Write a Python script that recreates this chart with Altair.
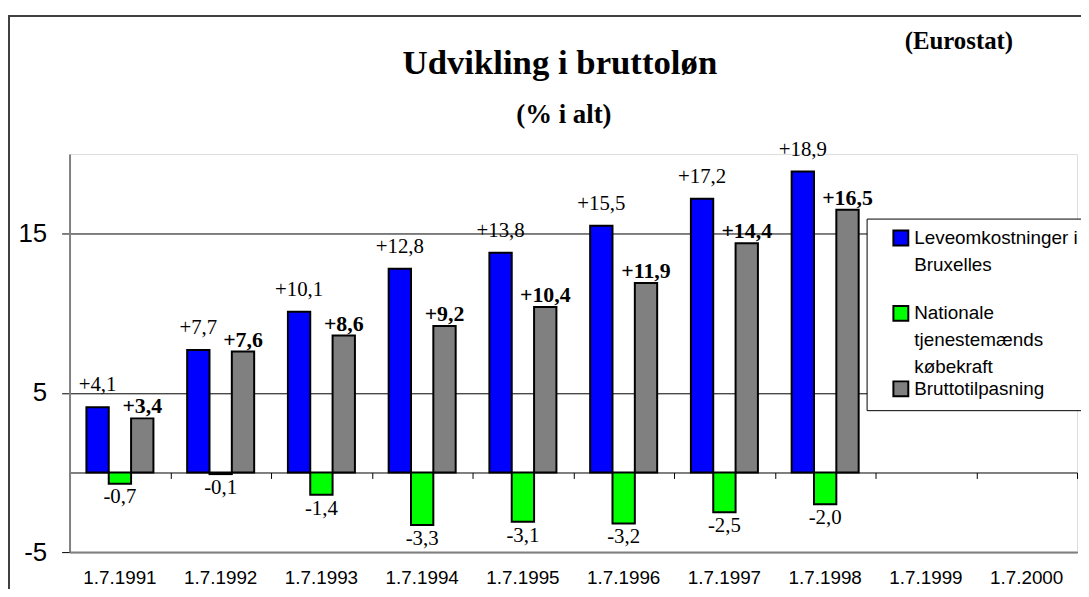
import altair as alt
import pandas as pd

# ---------------- data ----------------
CATEGORIES = ["1.7.1991", "1.7.1992", "1.7.1993", "1.7.1994", "1.7.1995",
              "1.7.1996", "1.7.1997", "1.7.1998", "1.7.1999", "1.7.2000"]
SERIES = ["Leveomkostninger i Bruxelles",
          "Nationale tjenestemænds købekraft",
          "Bruttotilpasning"]
LEVEOMKOSTNINGER = [4.1, 7.7, 10.1, 12.8, 13.8, 15.5, 17.2, 18.9]
KOEBEKRAFT = [-0.7, -0.1, -1.4, -3.3, -3.1, -3.2, -2.5, -2.0]
BRUTTOTILPASNING = [3.4, 7.6, 8.6, 9.2, 10.4, 11.9, 14.4, 16.5]
COLORS = ["#0000FF", "#00FF00", "#808080"]
Y_DOMAIN = [-5, 20]
Y_TICKS = [-5, 5, 15]
TITLE = "Udvikling i bruttoløn"
SUBTITLE = "(% i alt)"
SOURCE = "(Eurostat)"
LEGEND_LINES = {
    SERIES[0]: ["Leveomkostninger i", "Bruxelles", " "],
    SERIES[1]: ["Nationale", "tjenestemænds", "købekraft"],
}

rows = []
for s, vals in zip(SERIES, [LEVEOMKOSTNINGER, KOEBEKRAFT, BRUTTOTILPASNING]):
    for c, v in zip(CATEGORIES, vals):
        rows.append({"cat": c, "series": s, "value": v,
                     "label": f"{v:+.1f}".replace(".", ",")})
df = pd.DataFrame(rows)
one = pd.DataFrame({"k": [0]})

# ---------------- layout ----------------
W, H = 1015, 401
zero_offset = -H * (0 - Y_DOMAIN[0]) / (Y_DOMAIN[1] - Y_DOMAIN[0])

x_scale = alt.Scale(domain=CATEGORIES, paddingInner=0, paddingOuter=0)
xoff = alt.XOffset("series:N", sort=SERIES,
                   scale=alt.Scale(domain=SERIES, paddingInner=0, paddingOuter=0.755))
y_scale = alt.Scale(domain=Y_DOMAIN, nice=False, zero=False)

axis_labels = alt.Axis(orient="bottom", title=None, ticks=False, tickSize=0, grid=False,
                       domain=True, domainColor="#808080", domainWidth=2,
                       labelFont="Liberation Sans", labelFontSize=19, labelColor="black",
                       labelPadding=26, labelAngle=0)
axis_zero = alt.Axis(orient="bottom", title=None, labels=False, ticks=True, tickBand="extent",
                     tickSize=6, tickColor="black", tickWidth=1, grid=False,
                     domain=True, domainColor="black", domainWidth=1, offset=zero_offset)
y_axis = alt.Axis(values=Y_TICKS, title=None, grid=True, gridColor="black", gridWidth=1,
                  domainColor="#808080", domainWidth=2, tickColor="black", tickSize=8,
                  labelFont="Liberation Sans", labelFontSize=26, labelColor="black",
                  labelPadding=15, labelOffset=9, labelExpr="'' + datum.value")

label_expr = ""
for k, lines in LEGEND_LINES.items():
    arr = "[" + ", ".join("'" + l + "'" for l in lines) + "]"
    label_expr += f"datum.label == '{k}' ? {arr} : "
label_expr += "datum.label"

legend = alt.Legend(orient="none", legendX=803, legendY=65, title=None, padding=10,
                    symbolOffset=15, symbolSize=225, symbolType="square",
                    symbolStrokeColor="black", symbolStrokeWidth=2,
                    labelFont="Liberation Sans", labelFontSize=19, labelColor="black",
                    labelOffset=4, labelBaseline="top", labelLimit=500,
                    fillColor="white", strokeColor="black", rowPadding=0,
                    direction="vertical", labelExpr=label_expr)

frame = alt.Chart(one).mark_rect(filled=False, stroke="#404040", strokeWidth=2).encode(
    x=alt.value(-61), x2=alt.value(1100), y=alt.value(-139), y2=alt.value(600))

bars = alt.Chart(df).mark_bar(stroke="black", strokeWidth=2).encode(
    x=alt.X("cat:N", sort=CATEGORIES, scale=x_scale, axis=axis_labels),
    xOffset=xoff,
    y=alt.Y("value:Q", scale=y_scale, axis=y_axis, stack=False),
    color=alt.Color("series:N", sort=SERIES,
                    scale=alt.Scale(domain=SERIES, range=COLORS), legend=legend),
)

def labels(series, dy, size, weight, x_axis):
    return alt.Chart(df[df.series == series]).mark_text(
        font="Liberation Serif", fontSize=size, fontWeight=weight, color="black",
        baseline="middle", align="center", dy=dy).encode(
        x=alt.X("cat:N", sort=CATEGORIES, scale=x_scale, axis=x_axis),
        xOffset=xoff,
        y=alt.Y("value:Q", scale=y_scale, axis=y_axis),
        text="label:N",
    )

blue_lbl = labels(SERIES[0], -22, 21, "normal", axis_zero)
green_lbl = labels(SERIES[1], 14, 21, "normal", None)
gray_lbl = labels(SERIES[2], -12, 22, "bold", None)

def txt(t, x, y, size):
    return alt.Chart(one).mark_text(text=t, font="Liberation Serif", fontSize=size,
                                    fontWeight="bold", color="black", align="center",
                                    baseline="alphabetic").encode(x=alt.value(x), y=alt.value(y))

title = txt(TITLE, 494, -81, 35)
subtitle = txt(SUBTITLE, 498, -31, 27)
source = txt(SOURCE, 896, -106, 25)

chart = alt.layer(frame, bars, blue_lbl, green_lbl, gray_lbl, title, subtitle, source).resolve_axis(
    x="independent"
).properties(
    width=W, height=H,
    autosize=alt.AutoSizeParams(type="none"),
    padding={"left": 62, "top": 145, "right": 4, "bottom": 35},
).configure_view(stroke="transparent").configure(
    style={"guide-label": {"dy": -9, "lineHeight": 27}}
)

chart.save("out.html", embed_options={"renderer": "svg", "actions": False})
